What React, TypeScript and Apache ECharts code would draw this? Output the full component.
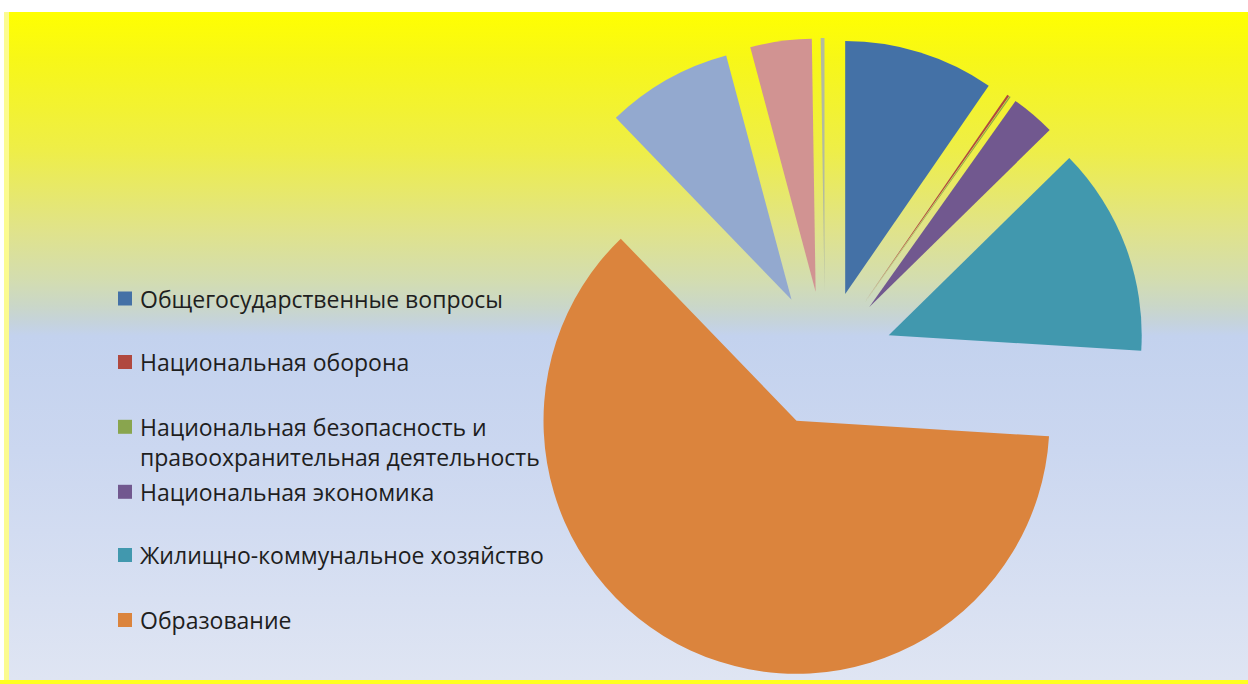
import React, { useEffect, useRef } from "react";
import * as echarts from "echarts";

const categories = [
  "Общегосударственные вопросы",
  "Национальная оборона",
  "Национальная безопасность и правоохранительная деятельность",
  "Национальная экономика",
  "Жилищно-коммунальное хозяйство",
  "Образование",
  "Культура, кинематография",
  "Социальная политика",
  "Физическая культура и спорт",
];
const values = [9.6, 0.14, 0.08, 2.83, 13.33, 61.8, 8.06, 3.92, 0.24];
const colors = ["#4471a6", "#b0483f", "#89a54e", "#71588f", "#4198ae", "#db843d", "#93a9cf", "#d19392", "#b3bb9f"];

const legendNames = categories.slice(0, 6);
const legendLabels = [
  "Общегосударственные вопросы",
  "Национальная оборона",
  "Национальная безопасность и",
  "Национальная экономика",
  "Жилищно-коммунальное хозяйство",
  "Образование",
];
const legendWrapLine = "правоохранительная деятельность";
const legendCenters = [297.5, 361, 425.8, 490.8, 554, 619];
const wrapLineCenter = 457;

const FONT = "'Open Sans', 'Noto Sans', sans-serif";
const FONT_SIZE = 23;

export default function App() {
  const ref = useRef<HTMLDivElement>(null);
  useEffect(() => {
    if (!ref.current) return;
    const chart = echarts.init(ref.current, undefined, { renderer: "svg" });
    const bg = new echarts.graphic.LinearGradient(0, 0, 0, 1, [
      { offset: 0, color: "#ffff00" },
      { offset: 0.072, color: "#f7f718" },
      { offset: 0.207, color: "#eeee48" },
      { offset: 0.326, color: "#e0e38a" },
      { offset: 0.401, color: "#d3ddb0" },
      { offset: 0.44, color: "#cad7c8" },
      { offset: 0.465, color: "#c5d3dc" },
      { offset: 0.485, color: "#c3d2ee" },
      { offset: 0.656, color: "#cbd7f0" },
      { offset: 1, color: "#dfe5f3" },
    ]);
    const legends = legendNames.map((name, i) => ({
      data: [name],
      orient: "vertical",
      left: 118,
      top: legendCenters[i] - 10.5,
      padding: 0,
      itemWidth: 14,
      itemHeight: 14,
      icon: "rect",
      selectedMode: false,
      formatter: () => legendLabels[i],
      textStyle: {
        fontFamily: FONT,
        fontSize: FONT_SIZE,
        color: "#1e1e1e",
        lineHeight: 14,
        padding: [0, 0, 0, 3],
      },
    }));
    chart.setOption({
      animation: false,
      backgroundColor: "#ffffff",
      color: colors,
      graphic: [
        { type: "rect", z: -10, silent: true, shape: { x: 9, y: 12, width: 1239, height: 668 }, style: { fill: bg } },
        { type: "rect", z: -10, silent: true, shape: { x: 0, y: 680, width: 1248, height: 4 }, style: { fill: "#ffff20" } },
        { type: "rect", z: -10, silent: true, shape: { x: 4, y: 12, width: 5, height: 668 }, style: { fill: "#fbfb90" } },
        {
          type: "text",
          z: 10,
          silent: true,
          x: 140,
          y: wrapLineCenter,
          style: {
            text: legendWrapLine,
            fontFamily: FONT,
            fontSize: FONT_SIZE,
            fill: "#1e1e1e",
            verticalAlign: "middle",
            align: "left",
          },
        },
      ],
      legend: legends,
      series: [
        {
          type: "pie",
          center: [825, 359],
          radius: 253,
          startAngle: 90,
          clockwise: true,
          selectedMode: "multiple",
          selectedOffset: 68,
          avoidLabelOverlap: false,
          label: { show: false },
          labelLine: { show: false },
          emphasis: { disabled: true },
          itemStyle: { borderWidth: 0 },
          select: { itemStyle: { borderWidth: 0 } },
          data: categories.map((name, i) => ({ name, value: values[i], selected: true })),
        },
      ],
    });
    return () => chart.dispose();
  }, []);
  return <div ref={ref} style={{ position: "fixed", left: 0, top: 0, width: 1248, height: 684 }} />;
}
